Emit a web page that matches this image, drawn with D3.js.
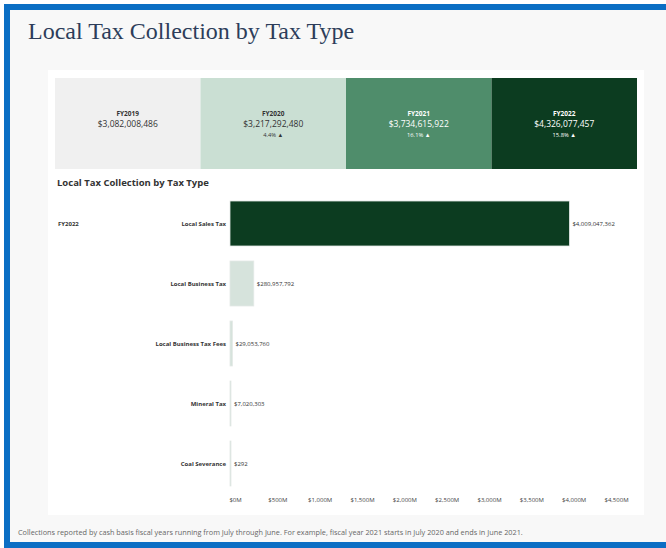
<!DOCTYPE html>
<html>
<head>
<meta charset="utf-8">
<script src="https://cdn.jsdelivr.net/npm/d3@7"></script>
<style>
  body { margin: 0; background: #fff; overflow: hidden; }
  svg { display: block; }
</style>
</head>
<body>
<script>
// KPI cards, one per fiscal year
const years = ['FY2019', 'FY2020', 'FY2021', 'FY2022'];
const yearTotals = ['$3,082,008,486', '$3,217,292,480', '$3,734,615,922', '$4,326,077,457'];
const yearChange = ['', '4.4%', '16.1%', '15.8%'];

// FY2022 breakdown
const taxTypes = ['Local Sales Tax', 'Local Business Tax', 'Local Business Tax Fees', 'Mineral Tax', 'Coal Severance'];
const taxValues = [4009047362, 280957792, 29053760, 7020303, 292];
const tickValues = [0, 500e6, 1000e6, 1500e6, 2000e6, 2500e6, 3000e6, 3500e6, 4000e6, 4500e6];

const width = 666;
const height = 548;
const sans = '"Open Sans", Lato, sans-serif';
const blue = '#0b6ec4';

const cardFill = ['#f0f0f0', '#cadfd3', '#4f8d6b', '#0c3c20'];
const cardText = ['#333', '#333', '#fff', '#fff'];
const barFill = (d, i) => (i === 0 ? '#0c3c20' : '#d6e3dc');

const svg = d3.select('body')
    .append('svg')
    .attr('width', width)
    .attr('height', height);

// page background
svg.append('rect')
    .attr('x', 4)
    .attr('y', 4)
    .attr('width', width - 4)
    .attr('height', 541)
    .attr('fill', '#f8f8f8');

// blue frame: top, left, bottom (no right edge visible)
svg.append('path')
    .attr('d', `M${width},7H7V545H${width}`)
    .attr('fill', 'none')
    .attr('stroke', blue)
    .attr('stroke-width', 6);

svg.append('text')
    .attr('x', 28)
    .attr('y', 39)
    .attr('fill', '#2d3d5a')
    .style('font-family', '"Liberation Serif", "DejaVu Serif", serif')
    .style('font-size', '24px')
    .text('Local Tax Collection by Tax Type');

// white dashboard panel
svg.append('rect')
    .attr('x', 48)
    .attr('y', 70)
    .attr('width', 596)
    .attr('height', 445)
    .attr('fill', '#fff');

// KPI cards
const cardX = d3.scaleBand()
    .domain(years)
    .range([55, 637]);

const cards = svg.append('g')
    .attr('class', 'cards')
    .selectAll('g')
    .data(years)
    .enter()
    .append('g')
    .attr('transform', d => `translate(${cardX(d)},78)`);

cards.append('rect')
    .attr('width', cardX.bandwidth())
    .attr('height', 91)
    .attr('fill', (d, i) => cardFill[i]);

cards.append('text')
    .attr('x', cardX.bandwidth() / 2)
    .attr('y', 38)
    .attr('text-anchor', 'middle')
    .attr('fill', (d, i) => cardText[i])
    .style('font-family', sans)
    .style('font-size', '6.5px')
    .style('font-weight', 'bold')
    .text(d => d);

cards.append('text')
    .attr('x', cardX.bandwidth() / 2)
    .attr('y', 49)
    .attr('text-anchor', 'middle')
    .attr('fill', (d, i) => cardText[i])
    .style('font-family', sans)
    .style('font-size', '8.5px')
    .text((d, i) => yearTotals[i]);

cards.append('text')
    .attr('x', cardX.bandwidth() / 2)
    .attr('y', 59)
    .attr('text-anchor', 'middle')
    .attr('fill', (d, i) => cardText[i])
    .style('font-family', sans)
    .style('font-size', '5.8px')
    .text((d, i) => (yearChange[i] ? `${yearChange[i]} \u25B2` : ''));

// bar chart section
svg.append('text')
    .attr('x', 57)
    .attr('y', 186)
    .attr('fill', '#333')
    .style('font-family', sans)
    .style('font-size', '9.5px')
    .style('font-weight', 'bold')
    .text('Local Tax Collection by Tax Type');

svg.append('text')
    .attr('x', 58)
    .attr('y', 226)
    .attr('fill', '#333')
    .style('font-family', sans)
    .style('font-size', '6px')
    .style('font-weight', 'bold')
    .text('FY2022');

const x = d3.scaleLinear()
    .domain([0, 4500e6])
    .range([230, 611]);

const y = d3.scaleBand()
    .domain(taxTypes)
    .range([193.5, 493.5])
    .paddingInner(0.25)
    .paddingOuter(0.125);

svg.append('g')
    .attr('class', 'bars')
    .selectAll('rect')
    .data(taxValues)
    .enter()
    .append('rect')
    .attr('x', x(0))
    .attr('y', (d, i) => y(taxTypes[i]))
    .attr('width', d => Math.max(1, x(d) - x(0)))
    .attr('height', y.bandwidth())
    .attr('fill', barFill)
    .attr('stroke', '#e4e9e6')
    .attr('stroke-width', 0.8);

svg.append('g')
    .attr('class', 'bar-labels')
    .selectAll('text')
    .data(taxValues)
    .enter()
    .append('text')
    .attr('x', d => Math.max(x(d), x(0) + 1) + 3)
    .attr('y', (d, i) => y(taxTypes[i]) + y.bandwidth() / 2)
    .attr('dy', '0.35em')
    .attr('fill', '#333')
    .style('font-family', sans)
    .style('font-size', '6px')
    .text(d => '$' + d3.format(',')(d));

svg.append('g')
    .attr('class', 'cat-labels')
    .selectAll('text')
    .data(taxTypes)
    .enter()
    .append('text')
    .attr('x', 226)
    .attr('y', d => y(d) + y.bandwidth() / 2)
    .attr('dy', '0.35em')
    .attr('text-anchor', 'end')
    .attr('fill', '#333')
    .style('font-family', sans)
    .style('font-size', '6px')
    .style('font-weight', 'bold')
    .text(d => d);

const axis = svg.append('g')
    .attr('transform', 'translate(5,493)')
    .call(d3.axisBottom(x)
        .tickValues(tickValues)
        .tickSize(0)
        .tickPadding(5)
        .tickFormat(d => '$' + d3.format(',')(d / 1e6) + 'M'));

axis.select('.domain').remove();
axis.selectAll('text')
    .attr('fill', '#444')
    .style('font-family', sans)
    .style('font-size', '6px');

svg.append('text')
    .attr('x', 18)
    .attr('y', 535)
    .attr('fill', '#666')
    .style('font-family', sans)
    .style('font-size', '7.3px')
    .text('Collections reported by cash basis fiscal years running from July through June. For example, fiscal year 2021 starts in July 2020 and ends in June 2021.');
</script>
</body>
</html>
